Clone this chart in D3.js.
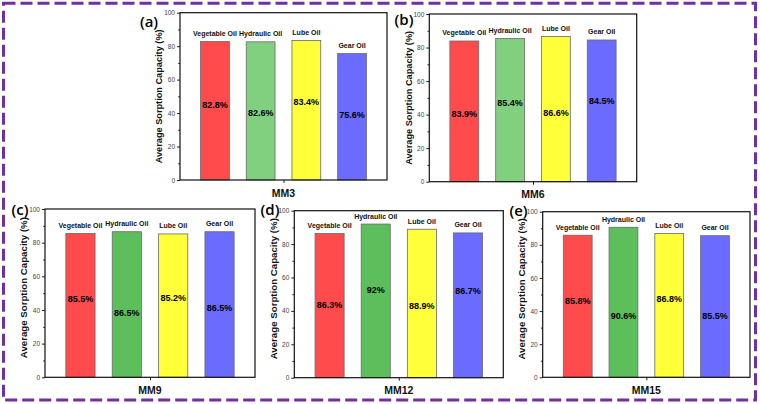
<!DOCTYPE html>
<html>
<head>
<meta charset="utf-8">
<script src="https://cdn.jsdelivr.net/npm/d3@7"></script>
<style>
  html, body { margin: 0; padding: 0; background: #fff; }
  svg { display: block; }
</style>
</head>
<body>
<svg id="chart" width="760" height="404"></svg>
<script>
// ---------- data ----------
const categories = ["Vegetable Oil", "Hydraulic Oil", "Lube Oil", "Gear Oil"];
const samples = ["MM3", "MM6", "MM9", "MM12", "MM15"];
const panelTags = ["(a)", "(b)", "(c)", "(d)", "(e)"];
const valuesMM3 = [82.8, 82.6, 83.4, 75.6];
const valuesMM6 = [83.9, 85.4, 86.6, 84.5];
const valuesMM9 = [85.5, 86.5, 85.2, 86.5];
const valuesMM12 = [86.3, 92, 88.9, 86.7];
const valuesMM15 = [85.8, 90.6, 86.8, 85.5];
// height (in % units) where each value label sits inside its bar
const labelAtMM3 = [45.1, 40.0, 47.0, 39.0];
const labelAtMM6 = [40.5, 47.1, 41.1, 48.4];
const labelAtMM9 = [46.6, 38.1, 47.0, 41.0];
const labelAtMM12 = [43.7, 52.5, 43.0, 52.2];
const labelAtMM15 = [46.0, 37.1, 47.2, 36.9];
const yTicks = [0, 20, 40, 60, 80, 100];
const yMinorTicks = [10, 30, 50, 70, 90];
const yTitle = "Average Sorption Capacity (%)";

const seriesValues = [valuesMM3, valuesMM6, valuesMM9, valuesMM12, valuesMM15];
const seriesLabelAt = [labelAtMM3, labelAtMM6, labelAtMM9, labelAtMM12, labelAtMM15];

// ---------- layout / style ----------
const layouts = [
  {x0: 180,   x1: 387,   y0: 12.7,  y1: 180,   tagX: 149,   tagY: 21.7, titleSize: 9.2, titleShift: 0,    green: "#80d080"},
  {x0: 429.3, x1: 636.7, y0: 14,    y1: 181.7, tagX: 404,   tagY: 19.7, titleSize: 9.2, titleShift: 0,    green: "#80d080"},
  {x0: 45,    x1: 255,   y0: 209,   y1: 377.3, tagX: 20,    tagY: 209.5, titleSize: 9.7, titleShift: -5.5, green: "#5cbf5c"},
  {x0: 294.3, x1: 503.3, y0: 210.7, y1: 377.7, tagX: 270,   tagY: 210,  titleSize: 9.7, titleShift: -5.5, green: "#5cbf5c"},
  {x0: 542.7, x1: 750,   y0: 211.7, y1: 377.3, tagX: 518.5, tagY: 211,  titleSize: 9.7, titleShift: -5.5, green: "#5cbf5c"}
];
const baseColors = ["#ff4b4b", null, "#ffff3a", "#6b6bff"];
const FONT = "'Liberation Sans', Arial, sans-serif";

const svg = d3.select("#chart");

// dashed purple border
svg.append("rect")
  .attr("x", 3.5).attr("y", 3.3)
  .attr("width", 752).attr("height", 396.7)
  .attr("fill", "none")
  .attr("stroke", "#7030a0")
  .attr("stroke-width", 3)
  .attr("stroke-dasharray", "12,5");

samples.forEach((name, i) => {
  const L = layouts[i];
  const vals = seriesValues[i];
  const labAt = seriesLabelAt[i];
  const g = svg.append("g");

  const x = d3.scaleBand().domain(categories).range([L.x0, L.x1])
    .paddingInner(0.37).paddingOuter(0.45);
  const y = d3.scaleLinear().domain([0, 100]).range([L.y1, L.y0]);
  const colors = categories.map((c, k) => baseColors[k] || L.green);

  // bars
  g.selectAll("rect.bar").data(categories).join("rect")
    .attr("class", "bar")
    .attr("x", d => x(d))
    .attr("y", (d, k) => y(vals[k]))
    .attr("width", x.bandwidth())
    .attr("height", (d, k) => y(0) - y(vals[k]))
    .attr("fill", (d, k) => colors[k])
    .attr("stroke", "#6a6a6a")
    .attr("stroke-width", 0.8);

  // category labels above bars
  g.selectAll("text.cat").data(categories).join("text")
    .attr("class", "cat")
    .attr("x", d => x(d) + x.bandwidth() / 2)
    .attr("y", (d, k) => y(vals[k]) - 5.5)
    .attr("text-anchor", "middle")
    .attr("font-family", FONT)
    .attr("font-weight", "bold")
    .attr("font-size", 7)
    .attr("fill", "#111")
    .text(d => d);

  // value labels inside bars
  g.selectAll("text.val").data(categories).join("text")
    .attr("class", "val")
    .attr("x", d => x(d) + x.bandwidth() / 2)
    .attr("y", (d, k) => y(labAt[k]))
    .attr("dy", "0.35em")
    .attr("text-anchor", "middle")
    .attr("font-family", FONT)
    .attr("font-weight", "bold")
    .attr("font-size", 9)
    .attr("fill", "#000")
    .text((d, k) => vals[k] + "%");

  // y axis major ticks
  const yAxis = g.append("g")
    .attr("transform", `translate(${L.x0},0)`)
    .call(d3.axisLeft(y).tickValues(yTicks).tickSize(3).tickPadding(2));
  yAxis.select(".domain").remove();
  yAxis.selectAll("line").attr("stroke", "#222");
  yAxis.selectAll("text")
    .attr("font-family", FONT)
    .attr("font-size", 6.5)
    .attr("fill", "#444");

  // y axis minor ticks
  const yMinor = g.append("g")
    .attr("transform", `translate(${L.x0},0)`)
    .call(d3.axisLeft(y).tickValues(yMinorTicks).tickSize(1.8).tickFormat(""));
  yMinor.select(".domain").remove();
  yMinor.selectAll("line").attr("stroke", "#222");

  // x axis single centre tick
  const xc = d3.scaleLinear().domain([0, 1]).range([L.x0, L.x1]);
  const xAxis = g.append("g")
    .attr("transform", `translate(0,${L.y1})`)
    .call(d3.axisBottom(xc).tickValues([0.5]).tickSize(3).tickFormat(""));
  xAxis.select(".domain").remove();
  xAxis.selectAll("line").attr("stroke", "#222");

  // frame
  g.append("rect")
    .attr("x", L.x0).attr("y", L.y0)
    .attr("width", L.x1 - L.x0).attr("height", L.y1 - L.y0)
    .attr("fill", "none")
    .attr("stroke", "#111")
    .attr("stroke-width", 1.2);

  // x title
  g.append("text")
    .attr("x", (L.x0 + L.x1) / 2)
    .attr("y", L.y1 + 16.5)
    .attr("text-anchor", "middle")
    .attr("font-family", FONT)
    .attr("font-weight", "bold")
    .attr("font-size", 10.5)
    .attr("fill", "#111")
    .text(name);

  // y title
  const ty = (L.y0 + L.y1) / 2 + L.titleShift;
  g.append("text")
    .attr("transform", `translate(${L.x0 - 21},${ty}) rotate(-90)`)
    .attr("text-anchor", "middle")
    .attr("dy", "0.35em")
    .attr("font-family", FONT)
    .attr("font-weight", "bold")
    .attr("font-size", L.titleSize)
    .attr("fill", "#111")
    .text(yTitle);

  // panel tag
  g.append("text")
    .attr("x", L.tagX)
    .attr("y", L.tagY)
    .attr("dy", "0.35em")
    .attr("text-anchor", "middle")
    .attr("font-family", "'Open Sans', sans-serif")
    .attr("font-weight", 600)
    .attr("font-size", 15)
    .attr("fill", "#000")
    .text(panelTags[i]);
});
</script>
</body>
</html>
